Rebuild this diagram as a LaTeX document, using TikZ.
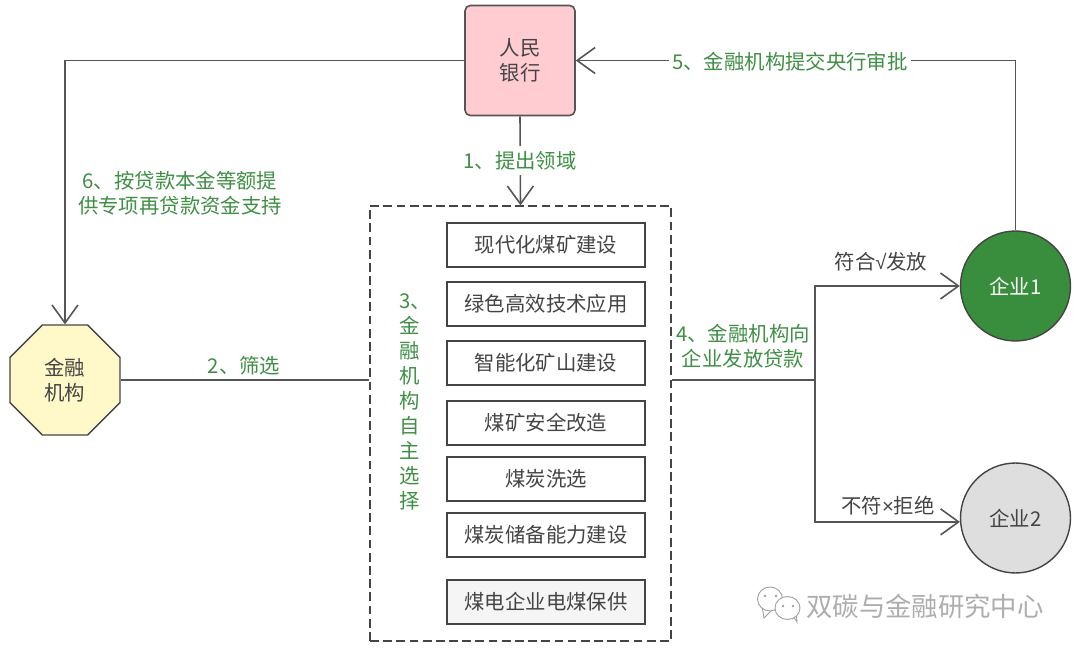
\documentclass[tikz,border=0pt]{standalone}
\usepackage{fontspec}
\setmainfont{Noto Sans CJK SC}
\newfontfamily\symbolfont{Liberation Sans}
\usetikzlibrary{arrows.meta, shapes.geometric}
\definecolor{inkgray}{HTML}{444444}
\definecolor{linegray}{HTML}{555555}
\definecolor{labelgreen}{HTML}{3F8F45}
\definecolor{firmgreen}{HTML}{388E3C}
\definecolor{bankpink}{HTML}{FFCCD2}
\definecolor{orgyellow}{HTML}{FFF9C9}
\tikzset{
  base text/.style = {font = \fontsize{11.6pt}{14.2pt}\selectfont, align = center, text = inkgray},
  flow line/.style = {draw = linegray, line width = 0.9pt},
  flow arrow/.style = {flow line, -{Straight Barb[length = 3.6mm, width = 5.2mm]}},
  step label/.style = {base text, text = labelgreen, inner sep = 1pt},
  line label/.style = {step label, fill = white, inner ysep = 3pt, inner xsep = 2pt},
  choice label/.style = {base text, inner sep = 1pt},
  item box/.style = {base text, draw = inkgray, line width = 0.9pt, minimum width = 3.96cm, minimum height = 0.88cm, inner sep = 0pt},
  firm/.style = {base text, circle, draw = inkgray, line width = 0.8pt, minimum size = 2.2cm, inner sep = 0pt}
}
\begin{document}
\begin{tikzpicture}[x = 0.02cm, y = -0.02cm]
    \useasboundingbox (0, 0) rectangle (1080, 652);
    \node[base text, draw = linegray, fill = bankpink, line width = 0.9pt, rounded corners = 3pt, minimum size = 2.2cm, inner sep = 0pt] (people bank) at (520, 60.5) {人民 \\ 银行};
    \node[base text, regular polygon, regular polygon sides = 8, draw = inkgray, fill = orgyellow, line width = 0.8pt, minimum size = 2.38cm, inner sep = 0pt] (finance org) at (65, 380) {金融 \\ 机构};
    \node[draw = inkgray, dash pattern = on 5pt off 2.5pt, line width = 0.8pt, minimum width = 6.02cm, minimum height = 8.7cm, inner sep = 0pt] (pick box) at (520.5, 423.5) {};
    \node[item box] (coal mine) at (546, 245) {现代化煤矿建设};
    \node[item box] (green tech) at (546, 304) {绿色高效技术应用};
    \node[item box] (smart mine) at (546, 363) {智能化矿山建设};
    \node[item box] (safety) at (546, 423) {煤矿安全改造};
    \node[item box] (washing) at (546, 479) {煤炭洗选};
    \node[item box] (storage) at (546, 535) {煤炭储备能力建设};
    \node[item box, fill = black!4] (power supply) at (546, 602) {煤电企业电煤保供};
    \node[firm, fill = firmgreen, text = white] (firm one) at (1015.5, 286) {企业1};
    \node[firm, fill = black!13] (firm two) at (1015.5, 518) {企业2};
    \coordinate (split) at (815, 380);
    \draw[flow arrow] (people bank.south) -- (pick box.north);
    \draw[flow arrow] (people bank.west) -| (finance org.north);
    \draw[flow line] (finance org.east) -- (finance org.east -| pick box.west);
    \draw[flow line] (split -| pick box.east) -- (split);
    \draw[flow arrow] (split) |- (firm one.west);
    \draw[flow arrow] (split) |- (firm two.184);
    \draw[flow arrow] (firm one.north) |- (people bank.east);
    \node[line label] (step one) at (520, 160.5) {1、提出领域};
    \node[line label] (step five) at (790, 61.5) {5、金融机构提交央行审批};
    \node[step label] (step six) at (180, 193.5) {6、按贷款本金等额提 \\ 供专项再贷款资金支持};
    \node[step label] (step two) at (244, 365.5) {2、筛选};
    \node[step label, align = left] (step three) at (415, 402) {3、\\ 金 \\ 融 \\ 机 \\ 构 \\ 自 \\ 主 \\ 选 \\ 择};
    \node[step label] (step four) at (743, 346.5) {4、金融机构向 \\ 企业发放贷款};
    \node[choice label] (pass) at (881, 262) {符合{\symbolfont √}发放};
    \node[choice label] (reject) at (888, 506) {不符{\symbolfont ×}拒绝};
    % watermark
    \begin{scope}[draw = black!38, fill = white, line width = 0.5pt]
      \filldraw (762, 606) -- (764, 618) -- (774, 608) -- cycle;
      \filldraw (770, 599) ellipse (12.5 and 12);
      \filldraw (793, 616) -- (797, 622) -- (796, 610) -- cycle;
      \filldraw (787.5, 608) ellipse (12.5 and 11.5);
      \fill[black!38] (765, 596) circle (1.3) (776, 596) circle (1.3) (783, 606) circle (1.3) (793, 606) circle (1.3);
    \end{scope}
    \node[base text, text = black!32, font = \fontsize{15pt}{18pt}\selectfont, inner sep = 0pt] (watermark) at (925, 606) {双碳与金融研究中心};
  \end{tikzpicture}
\end{document}
